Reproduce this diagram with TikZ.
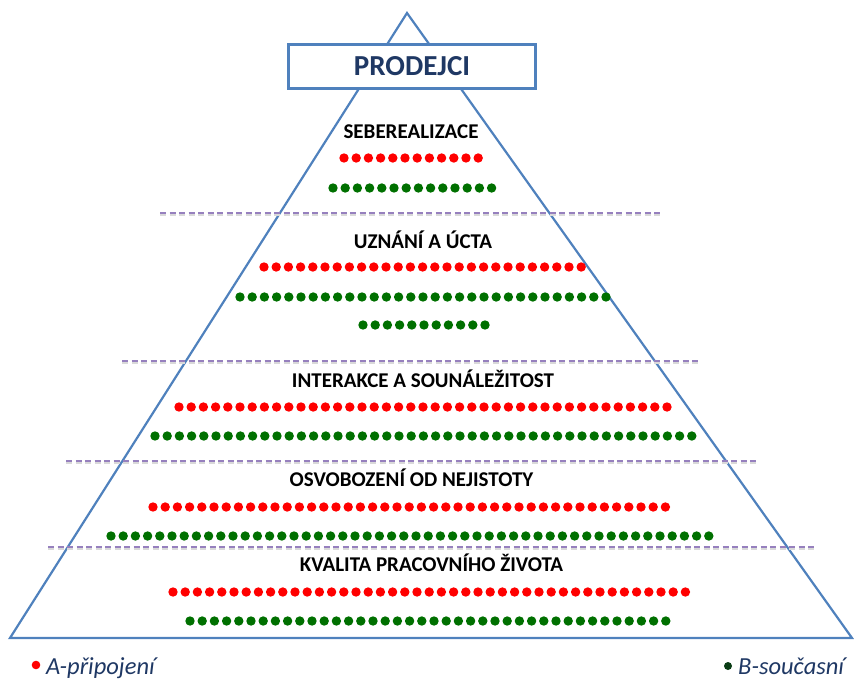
\documentclass[tikz,border=0pt]{standalone}
\usepackage{fontspec}
\setmainfont{Carlito}
\definecolor{triblue}{RGB}{79,129,189}
\definecolor{navy}{RGB}{31,56,100}
\definecolor{sepcol}{RGB}{150,128,190}
\definecolor{dotred}{RGB}{255,0,0}
\definecolor{dotgreen}{RGB}{0,112,0}
\definecolor{darkgreen}{RGB}{10,60,20}
\newcommand\dotrow[4]{\foreach \k in {1,...,#4}{\fill[#1] ({#2+(\k-1)*12.2},#3) circle (4.7pt);}}
\begin{document}
\begin{tikzpicture}[x=1pt,y=-1pt,
  tri/.style={draw=triblue, line width=2.2pt, line join=miter},
  sepline/.style={draw=sepcol, line width=1.2pt, dash pattern=on 6pt off 3.5pt},
  sepshadow/.style={draw=black!15, line width=1.6pt, dash pattern=on 6pt off 3.5pt},
  box/.style={draw=triblue, line width=3pt, fill=white, minimum width=247pt, minimum height=44pt, inner sep=0pt, font=\fontsize{29}{32}\selectfont\bfseries, text=navy},
  lab/.style={anchor=base, inner sep=0pt, font=\fontsize{21}{24}\selectfont\bfseries, text=black},
  leg/.style={anchor=base west, inner sep=0pt, font=\fontsize{24.5}{27}\selectfont\itshape, text=navy}]
\useasboundingbox (0,0) rectangle (854,680);
\coordinate (apex) at (407,13);
\coordinate (bl) at (10,638);
\coordinate (br) at (852,638);
\draw[tri] (bl) -- (apex) -- (br) -- cycle;
% separators
\foreach \ya/\xa/\xb in {213/160/662, 361/122/700, 461/66/756, 547/48/816}{
  \draw[sepshadow] (\xa,\ya+2) -- (\xb,\ya+2);
  \draw[sepline] (\xa,\ya) -- (\xb,\ya);
}
\node[box] (prod) at (412,66.5) {PRODEJCI};
% labels
\node[lab] (l1) at (411,138) {SEBEREALIZACE};
\node[lab] (l2) at (423,248) {UZNÁNÍ A ÚCTA};
\node[lab] (l3) at (423,387) {INTERAKCE A SOUNÁLEŽITOST};
\node[lab] (l4) at (411.5,486) {OSVOBOZENÍ OD NEJISTOTY};
\node[lab] (l5) at (431.5,571) {KVALITA PRACOVNÍHO ŽIVOTA};
% dot rows
\dotrow{dotred}{344}{158}{12}
\dotrow{dotgreen}{333}{188}{14}
\dotrow{dotred}{264}{267}{27}
\dotrow{dotgreen}{240}{297}{31}
\dotrow{dotgreen}{363}{325}{11}
\dotrow{dotred}{179}{407}{41}
\dotrow{dotgreen}{155}{436}{45}
\dotrow{dotred}{153}{507}{43}
\dotrow{dotgreen}{111}{536}{50}
\dotrow{dotred}{173}{592}{43}
\dotrow{dotgreen}{190}{621}{40}
% legend
\fill[dotred] (36,665) circle (4.3pt);
\node[leg] (la) at (46,674) {A-připojení};
\fill[darkgreen] (728,666) circle (4pt);
\node[leg] (lb) at (738,674) {B-současní};
\end{tikzpicture}
\end{document}
